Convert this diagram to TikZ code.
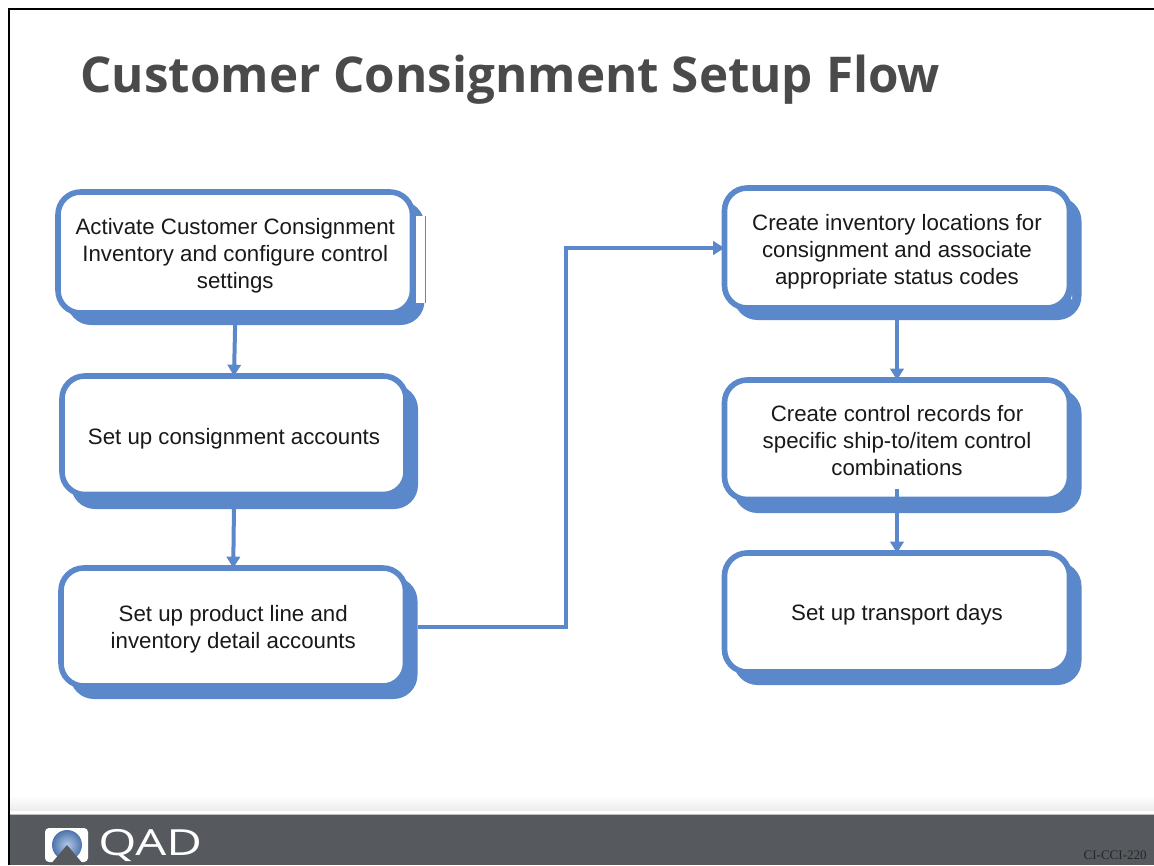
\documentclass[tikz,border=0pt]{standalone}
\usepackage{fontspec}
\setmainfont{Liberation Sans}
\newfontfamily\titlefont{Open Sans}
\newfontfamily\logofont[FakeStretch=1.36]{Open Sans}
\newfontfamily\codefont{Liberation Serif}
\usetikzlibrary{arrows.meta,positioning,calc}
\definecolor{boxblue}{HTML}{5A88CA}
\definecolor{footer}{HTML}{565A5E}
\definecolor{titlegrey}{HTML}{4A4A4A}
\tikzset{
  x=0.75pt,y=-0.75pt,
  flowbox/.style={draw=boxblue,line width=4.2pt,fill=white,rounded corners=17pt,inner sep=0pt,outer sep=0pt,text=black!90},
  flowline/.style={draw=boxblue,line width=3pt,-{Triangle[length=8.5pt,width=10pt]}},
  shadowbox/.style={fill=boxblue,rounded corners=18pt,draw=none},
}
% name, x0, y0, x1, y1, shadow bottom, text drop, text
\newcommand{\flowbox}[8]{%
  \fill[shadowbox] (#2+9,#3+9) rectangle (#4+12,#6);
  \node[flowbox,minimum width={(#4-#2)*0.75pt},minimum height={(#5-#3)*0.75pt}]
        (#1) at ({(#2+#4)/2},{(#3+#5)/2})
        {\raisebox{-#7pt}[0pt][0pt]{\parbox{250pt}{\centering\fontsize{16.7pt}{20.3pt}\selectfont #8}}};
}
\begin{document}
\begin{tikzpicture}
\useasboundingbox (0,0) rectangle (1154,865);
\fill[white] (0,0) rectangle (1154,865);
% footer
\shade[top color=white,bottom color=black!7] (10,795) rectangle (1154,810);
\fill[footer] (10,815) rectangle (1154,865);
\fill[black!25] (10,814) rectangle (1154,815);
% frame
\fill[black] (8,8) rectangle (1154,9.5);
\fill[black] (8,8) rectangle (10,865);
% title
\node[anchor=west,inner sep=0pt,font=\titlefont\bfseries\fontsize{37pt}{44pt}\selectfont,text=titlegrey] (title) at (80,80) {Customer Consignment Setup Flow};
% boxes
\flowbox{a}{58}{192}{412.5}{313}{325}{4.9}{Activate Customer Consignment\\Inventory and configure control\\settings}
\fill[white] (416,216) rectangle (425,303);
\fill[boxblue] (425,216) rectangle (426,303);
\flowbox{b}{62}{376}{406}{494.5}{509}{5.3}{Set up consignment accounts}
\flowbox{c}{61}{568}{405.5}{686}{699}{4.5}{Set up product line and\\inventory detail accounts}
\flowbox{d}{724.5}{188}{1069.5}{308}{320}{5.3}{Create inventory locations for\\consignment and associate\\appropriate status codes}
\fill[white] (1071,299) -- (1072,295) -- (1072,299) -- cycle;
\flowbox{e}{724.5}{380}{1069.5}{499.5}{513}{3.1}{Create control records for\\specific ship-to/item control\\combinations}
\flowbox{f}{724.5}{553}{1069.5}{672}{685}{4.5}{Set up transport days}
% connectors
\coordinate (turn) at (566,440);
\draw[flowline] ([yshift=-5pt]a.south) -- (b.north);
\draw[flowline] ([yshift=-8pt]b.south) -- (c.north);
\draw[flowline] ([yshift=-8pt]d.south) -- (e.north);
\draw[flowline] ([yshift=8pt]e.south) -- (f.north);
\draw[flowline] ([xshift=9pt]c.east) -| (turn) |- (d.west);
% logo
\fill[white,rounded corners=3pt] (45,828) rectangle (88,862);
\shade[inner color=white!55!boxblue,outer color=boxblue!85!black] (67,845) circle [radius=15];
\fill[footer] (50,865) -- (67,845) -- (84,865) -- cycle;
\node[anchor=west,inner sep=0pt,font=\logofont\fontsize{27pt}{30pt}\selectfont,text=white] (logo) at (98,845) {QAD};
\node[anchor=east,inner sep=0pt,font=\codefont\fontsize{9.8pt}{11pt}\selectfont,text=black!85] (code) at (1147,855) {CI-CCI-220};
\end{tikzpicture}
\end{document}
